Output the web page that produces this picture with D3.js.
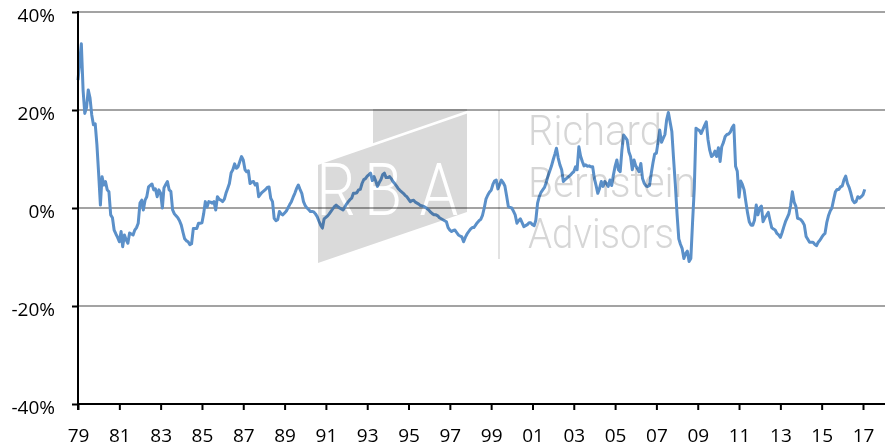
<!DOCTYPE html>
<html>
<head>
<meta charset="utf-8">
<script src="https://cdn.jsdelivr.net/npm/d3@7"></script>
<style>
  body { margin: 0; background: #fff; }
  svg { display: block; }
</style>
</head>
<body>
<script>
// monthly series, first value is Jan 1979
var startMonth = "1979-01";
var values = [
  26.1, 30, 33.5, 24, 19.3, 20.5, 24.1, 22.5, 19, 17.0, 17.2, 13,          // 1979
  7, 0.6, 6.4, 4.7, 5.4, 3.7, 3.3, -1.4, -2.0, -4.5, -5.3, -6.0,            // 1980
  -6.9, -4.8, -7.9, -5.5, -6.5, -7.2, -5.1, -5.3, -5.5, -4.5, -4.0, -3.1,   // 1981
  1.0, 1.6, -0.4, 1.6, 2.3, 4.3, 4.6, 4.9, 3.7, 3.9, 2.3, 3.7,              // 1982
  3.0, 0.0, 4.1, 4.8, 5.4, 3.7, 3.4, -0.4, -1.2, -1.6, -2.0, -2.6,          // 1983
  -3.5, -5.0, -6.3, -6.7, -6.9, -7.5, -7.3, -4.2, -4.2, -4.2, -3.1, -3.1,   // 1984
  -3.0, -1.1, 1.3, 0.2, 1.3, 1.2, 1.0, 1.3, -0.4, 2.3, 1.8, 1.6,            // 1985
  1.3, 1.8, 3.0, 4.0, 5.0, 7.2, 7.8, 9.0, 8.1, 8.4, 9.5, 10.5,              // 1986
  9.8, 7.8, 7.4, 7.6, 5.0, 5.3, 5.4, 4.7, 5.0, 2.3, 2.8, 3.2,               // 1987
  3.5, 3.8, 4.2, 4.3, 2.0, 1.3, -2.1, -2.6, -2.4, -0.7, -1.2, -1.4,         // 1988
  -1.0, -0.6, 0.0, 0.7, 1.3, 2.2, 3.0, 4.0, 4.7, 3.8, 3.0, 1.3,             // 1989
  0.5, 0.0, -0.3, -0.7, -0.7, -0.8, -1.2, -1.8, -2.7, -3.5, -4.1, -2.2,     // 1990
  -1.9, -1.6, -1.2, -0.7, -0.2, 0.3, 0.6, 0.3, 0.0, -0.2, -0.4, 0.2,        // 1991
  0.8, 1.3, 1.7, 2.0, 3.0, 3.0, 3.1, 3.7, 3.8, 5.0, 5.8, 6.0,               // 1992
  6.5, 6.8, 7.1, 5.6, 6.4, 5.5, 4.4, 5.2, 5.8, 6.8, 7.1, 6.2,               // 1993
  6.2, 6.4, 6.0, 5.4, 5.0, 4.5, 4.0, 3.6, 3.3, 3.0, 2.6, 2.3,               // 1994
  1.8, 1.3, 1.5, 1.6, 1.2, 1.0, 0.8, 0.5, 0.4, 0.3, 0.1, -0.2,              // 1995
  -0.5, -0.9, -1.2, -1.4, -1.4, -1.6, -2.0, -2.2, -2.4, -2.6, -2.8, -4.0,   // 1996
  -4.5, -4.8, -4.6, -4.5, -5.0, -5.5, -5.7, -5.9, -6.9, -6.0, -5.3, -4.8,   // 1997
  -4.3, -4.0, -4.0, -3.5, -3.0, -2.6, -2.3, -1.5, 0.0, 1.8, 2.6, 3.2,       // 1998
  3.6, 4.8, 5.5, 5.7, 3.9, 4.8, 5.7, 5.2, 4.5, 2.5, 0.3, 0.1,               // 1999
  0.0, -0.7, -1.4, -3.1, -2.6, -2.2, -3.0, -3.8, -3.6, -3.4, -3.0, -3.0,    // 2000
  -3.4, -3.6, -2.5, 1.0, 2.3, 3.2, 3.7, 4.2, 5.2, 6.5, 7.5, 8.5,            // 2001
  9.8, 11.0, 12.2, 10.2, 8.8, 7.8, 5.4, 5.8, 6.1, 6.4, 6.7, 7.1,            // 2002
  7.4, 8.4, 7.8, 12.5, 10.6, 9.5, 8.6, 8.8, 8.5, 8.6, 8.4, 8.4,             // 2003
  6.0, 4.5, 3.0, 4.0, 5.4, 4.4, 5.4, 5.0, 4.4, 5.7, 4.6, 6.7,               // 2004
  8.5, 9.8, 7.8, 7.4, 11.8, 14.9, 14.4, 13.9, 11.5, 10.5, 7.8, 9.8,         // 2005
  8.6, 8.0, 7.4, 9.1, 6.0, 5.0, 4.5, 4.4, 4.6, 7.0, 9.2, 11.0,              // 2006
  11.2, 13.5, 15.9, 13.4, 14.2, 15.0, 18.0, 19.5, 17.5, 15.6, 10.0, 4.9,    // 2007
  -1.2, -6.3, -7.4, -8.3, -10.3, -9.3, -8.8, -10.9, -10.3, -3.0, 4.0, 16.3, // 2008
  16.0, 15.8, 15.2, 16.0, 16.8, 17.6, 14.0, 11.8, 10.5, 10.8, 11.6, 10.5,   // 2009
  12.3, 9.5, 12.5, 13.4, 14.6, 15.0, 15.1, 15.5, 16.4, 16.9, 8.5, 7.5,      // 2010
  2.2, 5.5, 4.8, 3.7, 1.3, -1.0, -2.8, -3.5, -3.5, -2.5, 0.6, -1.4,         // 2011
  0.0, 0.4, -2.8, -2.0, -1.5, -0.9, -2.5, -4.0, -4.3, -4.5, -5.2, -5.5,     // 2012
  -6.0, -5.0, -3.9, -2.8, -2.0, -1.2, 0.5, 3.3, 1.2, 0.4, -2.1, -2.2,       // 2013
  -2.4, -2.9, -3.5, -5.8, -6.4, -7.0, -7.0, -7.0, -7.4, -7.7, -7.0, -6.6,   // 2014
  -6.0, -5.5, -5.2, -3.0, -1.6, -0.6, 0.0, 1.7, 3.3, 3.8, 3.8, 4.3,         // 2015
  4.5, 5.8, 6.5, 5.0, 4.2, 3.0, 1.6, 1.1, 1.3, 2.3, 2.0, 2.3,               // 2016
  2.7, 3.8                                                                  // 2017
];
var xTickYears = [1979, 1981, 1983, 1985, 1987, 1989, 1991, 1993, 1995, 1997,
                  1999, 2001, 2003, 2005, 2007, 2009, 2011, 2013, 2015, 2017];
var yTicks = [-40, -20, 0, 20, 40];
var watermarkWords = ["Richard", "Bernstein", "Advisors"];
var watermarkLetters = ["R", "B", "A"];

var width = 885;
var height = 448;
var fontFam = "'Open Sans', 'Liberation Sans', sans-serif";

var parseMonth = d3.timeParse("%Y-%m");
var first = parseMonth(startMonth);
var months = d3.timeMonth.range(first, d3.timeMonth.offset(first, values.length));
var data = values.map(function(v, i) { return { date: months[i], value: v }; });

var x = d3.scaleTime()
  .domain([new Date(1979, 0, 1), new Date(2017, 0, 1)])
  .range([78, 863]);
var y = d3.scaleLinear().domain([-40, 40]).range([404, 12]);

var svg = d3.select("body").append("svg")
  .attr("width", width)
  .attr("height", height);

// gridlines
svg.append("g")
  .selectAll("line")
  .data(yTicks.filter(function(d) { return d > -40; }))
  .enter().append("line")
  .attr("x1", 78).attr("x2", width)
  .attr("y1", function(d) { return y(d); })
  .attr("y2", function(d) { return y(d); })
  .attr("stroke", "#a3a3a3")
  .attr("stroke-width", 2);

// the series
var line = d3.line()
  .x(function(d) { return x(d.date); })
  .y(function(d) { return y(d.value); });

svg.append("path")
  .datum(data)
  .attr("d", line)
  .attr("fill", "none")
  .attr("stroke", "#5b90c9")
  .attr("stroke-width", 3)
  .attr("stroke-linejoin", "round");

// watermark, multiplied over the chart
var wm = svg.append("g").style("mix-blend-mode", "multiply");
wm.append("polygon")
  .attr("points", "373,109 467,109 467,212 318,263 318,163 373,144.5")
  .attr("fill", "#dadada");
wm.append("line")
  .attr("x1", 316).attr("y1", 164.2).attr("x2", 469).attr("y2", 111.5)
  .attr("stroke", "#fff").attr("stroke-width", 2.5);
var letterX = [336, 383, 439];
wm.selectAll("text.rba")
  .data(watermarkLetters)
  .enter().append("text")
  .attr("class", "rba")
  .attr("transform", function(d, i) { return "translate(" + letterX[i] + ",215) scale(0.85,1)"; })
  .attr("text-anchor", "middle")
  .style("font-family", "Roboto, sans-serif")
  .style("font-weight", 300)
  .style("font-size", "73px")
  .attr("fill", "#fff")
  .text(function(d) { return d; });
wm.append("line")
  .attr("x1", 499).attr("x2", 499).attr("y1", 110).attr("y2", 259)
  .attr("stroke", "#d9d9d9").attr("stroke-width", 1.5);
var wordLen = [134, 168, 146];
wm.selectAll("text.word")
  .data(watermarkWords)
  .enter().append("text")
  .attr("class", "word")
  .attr("x", 528)
  .attr("y", function(d, i) { return 145 + i * 51.5; })
  .attr("textLength", function(d, i) { return wordLen[i]; })
  .attr("lengthAdjust", "spacingAndGlyphs")
  .style("font-family", "Roboto, sans-serif")
  .style("font-weight", 300)
  .style("font-size", "42px")
  .attr("fill", "#d6d6d6")
  .text(function(d) { return d; });

// x axis
var xAxis = svg.append("g")
  .attr("transform", "translate(0,404)")
  .call(d3.axisBottom(x)
    .tickValues(xTickYears.map(function(yr) { return new Date(yr, 0, 1); }))
    .tickFormat(d3.timeFormat("%y"))
    .tickSize(6)
    .tickPadding(19));
xAxis.select(".domain").remove();
xAxis.selectAll(".tick line").attr("stroke", "#000").attr("stroke-width", 2);
xAxis.selectAll("text")
  .attr("fill", "#000")
  .style("font-family", fontFam)
  .style("font-size", "19px");
svg.append("line")
  .attr("x1", 77).attr("x2", width).attr("y1", 404).attr("y2", 404)
  .attr("stroke", "#000").attr("stroke-width", 2);

// y axis
var yAxis = svg.append("g")
  .attr("transform", "translate(78,0)")
  .call(d3.axisLeft(y)
    .tickValues(yTicks)
    .tickFormat(function(d) { return d + "%"; })
    .tickSize(6)
    .tickPadding(17));
yAxis.select(".domain").remove();
yAxis.selectAll(".tick line").attr("stroke", "#000").attr("stroke-width", 2);
yAxis.selectAll("text")
  .attr("fill", "#000")
  .attr("dy", "0.5em")
  .style("font-family", fontFam)
  .style("font-size", "19px");
svg.append("line")
  .attr("x1", 78).attr("x2", 78).attr("y1", 11).attr("y2", 410)
  .attr("stroke", "#000").attr("stroke-width", 2);
</script>
</body>
</html>
